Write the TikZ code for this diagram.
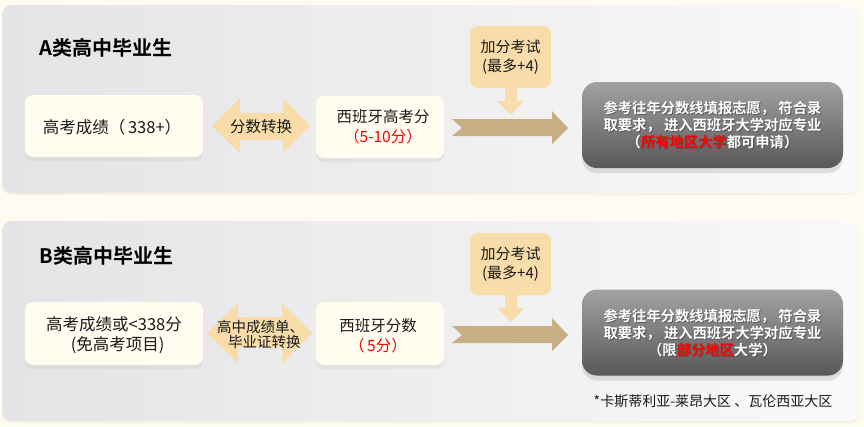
\documentclass[tikz,border=0pt]{standalone}
\usepackage{fontspec}
\setmainfont{Noto Sans CJK SC}[BoldFont={Noto Sans CJK SC Bold}]
\usetikzlibrary{shadows}
\definecolor{bgc}{HTML}{FFFBF0}
\definecolor{panL}{HTML}{E4E4E6}
\definecolor{panR}{HTML}{F9F9F9}
\definecolor{boxc}{HTML}{FFFCF0}
\definecolor{orc}{HTML}{F8DCA9}
\definecolor{tanc}{HTML}{C8AE83}
\definecolor{grT}{HTML}{A3A1A3}
\definecolor{grB}{HTML}{5A5759}
\definecolor{txc}{HTML}{1A1A1A}
\definecolor{redc}{HTML}{FF0000}
\colorlet{hlc}{redc}
\newcommand\hl[1]{{\color{hlc}#1}}
\newcommand\resA{参考往年分数线填报志愿，\ 符合录\\取要求，\ 进入西班牙大学对应专业\\（\hl{所有地区大学}都可申请）}
\newcommand\resB{参考往年分数线填报志愿，\ 符合录\\取要求，\ 进入西班牙大学对应专业\\（限\hl{部分地区}大学）}
\begin{document}
\begin{tikzpicture}[x=1pt,y=-1pt,
  panel/.style={rounded corners=10pt, left color=panL, right color=panR, draw=none,
    drop shadow={opacity=0.08, shadow xshift=0pt, shadow yshift=-2pt}},
  title/.style={font=\fontsize{20}{24}\selectfont\bfseries, text=black, anchor=west},
  cbox/.style={rounded corners=8pt, fill=boxc, draw=none, minimum width=178pt, minimum height=62pt,
    drop shadow={opacity=0.10, shadow xshift=0pt, shadow yshift=-4pt}},
  sbox/.style={cbox, minimum width=128pt},
  body/.style={font=\fontsize{15.5}{20}\selectfont, text=txc, align=center},
  bigbody/.style={body, font=\fontsize{16.5}{20}\selectfont},
  bonus/.style={rounded corners=8pt, fill=orc, draw=none, minimum width=81pt, minimum height=62pt,
    font=\fontsize{15}{19}\selectfont, text=txc, align=center},
  resbox/.style={rounded corners=15pt, top color=grT, bottom color=grB, draw=none,
    minimum width=261pt, minimum height=86pt,
    drop shadow={opacity=0.22, shadow xshift=0pt, shadow yshift=-5pt}},
  restext/.style={font=\fontsize{14.3}{17}\selectfont\bfseries, align=center},
  arrowfill/.style={fill=orc, draw=none},
  tanfill/.style={fill=tanc, draw=none},
  note/.style={font=\fontsize{14}{17}\selectfont, text=txc}
]
\useasboundingbox (0,0) rectangle (864,426);
\fill[bgc] (0,0) rectangle (864,426);

% ===== Panel A =====
\path[panel] (2,5) rectangle (860,193);
\node[title] (tA) at (36,48) {A类高中毕业生};
\node[cbox] (a1) at (114,126) {};
\node[bigbody] (a1t) at (112,127) {高考成绩（\,338+）};
\fill[arrowfill] (212,126) -- (240,98) -- (240,113) -- (283,113) -- (283,98) -- (310,126)
  -- (283,153) -- (283,140) -- (240,140) -- (240,153) -- cycle;
\node[body, font=\fontsize{15.5}{19}\selectfont] (a2t) at (261,127) {分数转换};
\node[sbox] (a3) at (380,127) {};
\node[body] (a3t) at (383,127) {西班牙高考分\\\textcolor{redc}{（5-10分）}};
\node[bonus] (a4) at (510.5,57) {加分考试\\(最多+4)};
\fill[arrowfill] (505,87) -- (517,87) -- (517,101) -- (524,101) -- (511,115) -- (497,101) -- (505,101) -- cycle;
\fill[tanfill] (452,119) -- (552,119) -- (552,111) -- (568,128) -- (552,144) -- (552,136)
  -- (452,136) -- (462,128) -- cycle;
\node[resbox] (a5) at (712.5,125) {};
\node[restext, text=black!70, opacity=0.7, execute at begin node={\colorlet{hlc}{black!70}}] at (713.5,126.3) {\resA};
\node[restext, text=white] (a5t) at (712.5,125) {\resA};

% ===== Panel B =====
\path[panel] (2,221) rectangle (860,421);
\node[title] (tB) at (36,256) {B类高中毕业生};
\node[cbox, minimum height=63pt] (b1) at (114,333.5) {};
\node[bigbody] (b1t) at (114,335) {高考成绩或<338分\\\ \ (免高考项目)};
\fill[arrowfill] (207,333) -- (238,303) -- (238,317) -- (282,317) -- (282,303) -- (312,333)
  -- (282,363) -- (282,347) -- (238,347) -- (238,363) -- cycle;
\node[body, font=\fontsize{14.5}{18}\selectfont, anchor=west, inner sep=0pt] (b2t) at (217,327) {高中成绩单、};
\node[body, font=\fontsize{14.5}{18}\selectfont, anchor=west, inner sep=0pt] (b2u) at (228,342) {毕业证转换};
\node[sbox, minimum height=63pt] (b3) at (380,333.5) {};
\node[body] (b3t) at (378,336) {西班牙分数\\\textcolor{redc}{（\,5分）}};
\node[bonus] (b4) at (510.5,264) {加分考试\\(最多+4)};
\fill[arrowfill] (505,294) -- (517,294) -- (517,308) -- (524,308) -- (511,322) -- (497,308) -- (505,308) -- cycle;
\fill[tanfill] (452,326) -- (552,326) -- (552,318) -- (568,335) -- (552,351) -- (552,343)
  -- (452,343) -- (462,335) -- cycle;
\node[resbox] (b5) at (712.5,332.5) {};
\node[restext, text=black!70, opacity=0.7, execute at begin node={\colorlet{hlc}{black!70}}] at (713.5,334.3) {\resB};
\node[restext, text=white] (b5t) at (712.5,333) {\resB};
\node[note] (fn) at (713,401) {*卡斯蒂利亚-莱昂大区\ 、瓦伦西亚大区};
\end{tikzpicture}
\end{document}
